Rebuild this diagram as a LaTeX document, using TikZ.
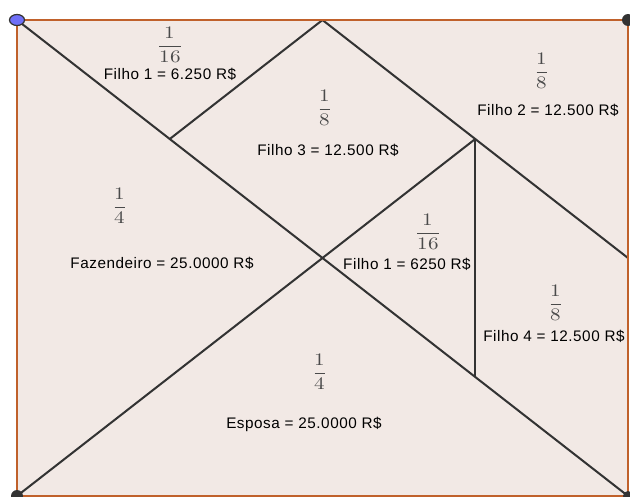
\documentclass[tikz,border=0pt]{standalone}
\usepackage{fontspec}
\setmainfont[LetterSpace=3.5]{Liberation Sans}
\usepackage{amsmath}
\usepackage{unicode-math}
\setmathfont{Latin Modern Math}
\definecolor{bgfill}{HTML}{F2E9E5}
\definecolor{edge}{HTML}{C0612B}
\definecolor{seg}{HTML}{333333}
\definecolor{fracc}{HTML}{4A4A4A}
\definecolor{ptblue}{HTML}{6F6FF7}
\newcommand{\myfrac}[2]{\scalebox{1.2}[1]{$\displaystyle\frac{#1}{#2}$}}
\begin{document}
\begin{tikzpicture}[x=0.02cm,y=-0.02cm,
  segline/.style={draw=seg,line width=1.15pt},
  border/.style={draw=edge,line width=1.5pt},
  lbl/.style={inner sep=0pt,text=black,font=\fontsize{8.7}{10}\selectfont},
  frc/.style={inner sep=0pt,text=fracc,font=\fontsize{10}{11}\selectfont},
  dot/.style={draw=seg,fill=seg,line width=0.6pt}]
\useasboundingbox (0,0) rectangle (630,497);
\coordinate (A) at (17,20);
\coordinate (B) at (628,20);
\coordinate (C) at (628,496);
\coordinate (D) at (17,496);
\coordinate (M) at (322.5,20);
\coordinate (P) at (169.75,139);
\coordinate (Q) at (475.25,139);
\coordinate (X) at (322.5,258);
\coordinate (R) at (628,258);
\coordinate (S) at (475.25,377);
\fill[bgfill] (A) rectangle (C);
\draw[segline] (A) -- (C);
\draw[segline] (M) -- (P);
\draw[segline] (M) -- (R);
\draw[segline] (Q) -- (D);
\draw[segline] (Q) -- (S);
\draw[border] (A) -- (B) -- (C) -- (D) -- cycle;
% labels
\node[frc] (f1) at (170,45) {\myfrac{1}{16}};
\node[lbl] (t1) at (170,74) {Filho 1 = 6.250 R\$};
\node[frc] (f2) at (325,108) {\myfrac{1}{8}};
\node[lbl] (t2) at (328,150) {Filho 3 = 12.500 R\$};
\node[frc] (f3) at (542,71) {\myfrac{1}{8}};
\node[lbl] (t3) at (548,110) {Filho 2 = 12.500 R\$};
\node[frc] (f4) at (120,206) {\myfrac{1}{4}};
\node[lbl] (t4) at (162,263) {Fazendeiro = 25.0000 R\$};
\node[frc] (f5) at (428,232) {\myfrac{1}{16}};
\node[lbl] (t5) at (407,264) {Filho 1 = 6250 R\$};
\node[frc] (f6) at (556,303) {\myfrac{1}{8}};
\node[lbl] (t6) at (554,336) {Filho 4 = 12.500 R\$};
\node[frc] (f7) at (320,372) {\myfrac{1}{4}};
\node[lbl] (t7) at (304,424) {Esposa = 25.0000 R\$};
% points
\draw[draw=seg,fill=ptblue,line width=0.7pt] (A) ellipse [x radius=7.5,y radius=5.5];
\fill[seg] (B) circle [radius=6];
\fill[seg] (D) circle [radius=6];
\fill[seg] (C) circle [radius=5];
\end{tikzpicture}
\end{document}
